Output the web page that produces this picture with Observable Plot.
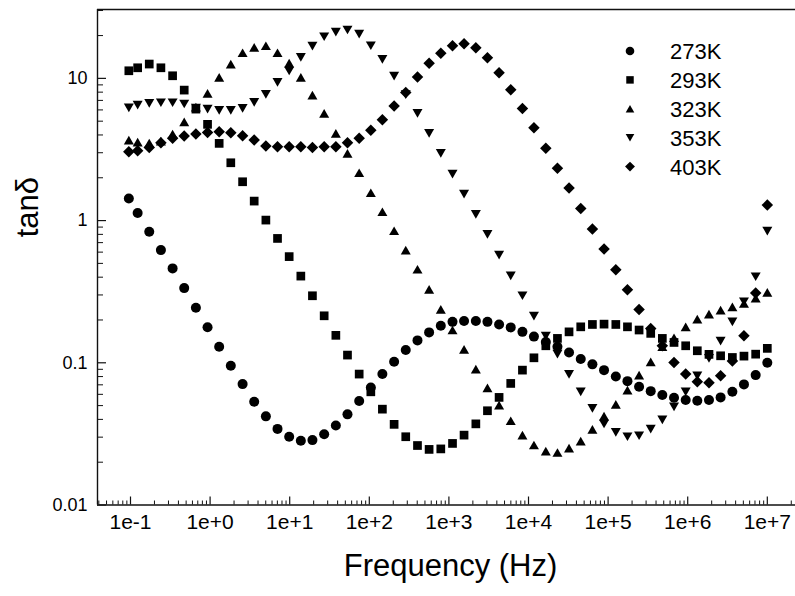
<!DOCTYPE html>
<html><head><meta charset="utf-8">
<script src="https://cdn.jsdelivr.net/npm/d3@7"></script>
<script src="https://cdn.jsdelivr.net/npm/@observablehq/plot@0.6"></script>
<style>
html,body{margin:0;padding:0;background:#fff;}
#chart{width:795px;height:596px;}
</style></head><body><div id="chart"></div>
<script>
// Frequency (Hz) of each measurement point
const frequency = [0.0953, 0.123, 0.172, 0.241, 0.338, 0.473, 0.663, 0.929, 1.30, 1.82,
  2.56, 3.58, 5.02, 7.03, 9.85, 13.8, 19.3, 27.1, 38.0, 53.2,
  74.6, 104.5, 146, 205, 287, 403, 564, 791, 1110, 1550,
  2180, 3050, 4270, 5980, 8390, 11700, 16500, 23100, 32300, 45300,
  63500, 88900, 125000, 175000, 245000, 343000, 480000, 673000, 943000, 1320000,
  1850000, 2590000, 3640000, 5090000, 7140000, 10000000];

const tan273 = [1.43, 1.13, 0.834, 0.620, 0.461, 0.335, 0.244, 0.178, 0.1296, 0.0952,
  0.0708, 0.0532, 0.0420, 0.0343, 0.0302, 0.0283, 0.0286, 0.0314, 0.0362, 0.0434,
  0.0538, 0.0671, 0.0833, 0.1016, 0.1229, 0.1437, 0.1636, 0.182, 0.194, 0.197,
  0.197, 0.194, 0.186, 0.1774, 0.165, 0.1528, 0.1398, 0.1296, 0.118, 0.1062,
  0.0975, 0.0888, 0.0802, 0.0743, 0.0678, 0.0632, 0.0593, 0.0567, 0.0547, 0.0541,
  0.0547, 0.0571, 0.0625, 0.0705, 0.0819, 0.100];

const tan293 = [11.31, 11.87, 12.61, 11.87, 10.43, 8.27, 6.08, 4.75, 3.49, 2.55,
  1.875, 1.371, 1.008, 0.749, 0.558, 0.407, 0.296, 0.214, 0.156, 0.1133,
  0.0833, 0.0625, 0.0472, 0.0369, 0.0302, 0.0262, 0.0246, 0.0248, 0.0271, 0.0310,
  0.0372, 0.0460, 0.0571, 0.0716, 0.0888, 0.1084, 0.1317, 0.1484, 0.165, 0.179,
  0.186, 0.187, 0.186, 0.179, 0.170, 0.161, 0.1484, 0.139, 0.1317, 0.1215,
  0.1146, 0.112, 0.109, 0.1114, 0.115, 0.1263];

const tan323 = [3.68, 3.565, 3.51, 3.62, 4.06, 4.95, 6.28, 7.84, 10.16, 12.61,
  15.14, 16.52, 16.96, 15.14, 12.81, 10.16, 7.63, 5.67, 4.10, 2.97,
  2.168, 1.569, 1.153, 0.848, 0.620, 0.4545, 0.328, 0.2374, 0.170, 0.1243,
  0.0903, 0.0667, 0.0504, 0.0391, 0.0310, 0.0264, 0.0239, 0.0234, 0.0251, 0.0281,
  0.0340, 0.0422, 0.0510, 0.0643, 0.0819, 0.1016, 0.1296, 0.150, 0.179, 0.203,
  0.220, 0.2348, 0.2476, 0.2617, 0.285, 0.3128];

const tan353 = [6.21, 6.49, 6.67, 6.74, 6.74, 6.60, 6.18, 6.08, 5.96, 5.96,
  6.15, 6.78, 7.72, 9.37, 11.26, 14.05, 16.87, 19.61, 21.17, 21.87,
  20.49, 16.96, 13.60, 10.38, 7.69, 5.67, 4.10, 2.97, 2.123, 1.536,
  1.106, 0.80, 0.572, 0.409, 0.296, 0.213, 0.154, 0.115, 0.0829, 0.0625,
  0.0478, 0.0371, 0.0324, 0.0302, 0.0307, 0.0342, 0.0397, 0.0490, 0.0625, 0.0810,
  0.1074, 0.1421, 0.194, 0.2685, 0.4025, 0.844];

const tan403 = [3.05, 3.10, 3.27, 3.53, 3.79, 3.93, 4.06, 4.17, 4.21, 4.14,
  3.95, 3.68, 3.34, 3.30, 3.30, 3.30, 3.27, 3.30, 3.30, 3.53,
  3.79, 4.31, 5.12, 6.39, 7.97, 10.21, 12.75, 14.99, 16.96, 17.51,
  16.42, 13.96, 10.95, 8.31, 6.15, 4.49, 3.22, 2.33, 1.693, 1.218,
  0.871, 0.630, 0.4508, 0.326, 0.2374, 0.1745, 0.132, 0.1006, 0.0833, 0.0735,
  0.0724, 0.0810, 0.1028, 0.1548, 0.309, 1.285];

const seriesNames = ["273K", "293K", "323K", "353K", "403K"];
const seriesValues = [tan273, tan293, tan323, tan353, tan403];
const xTickValues = [1e-1, 1e0, 1e1, 1e2, 1e3, 1e4, 1e5, 1e6, 1e7];
const yTickValues = [0.01, 0.1, 1, 10];

// marker shapes (custom symbols, r = sqrt(size/PI))
const rOf = s => Math.sqrt(s / Math.PI);
const symCircle = {draw(c, s) { const r = rOf(s); c.moveTo(r, 0); c.arc(0, 0, r, 0, 2 * Math.PI); }};
const symSquare = {draw(c, s) { const r = rOf(s) * 0.87; c.moveTo(-r, -r); c.lineTo(r, -r); c.lineTo(r, r); c.lineTo(-r, r); c.closePath(); }};
const symUp = {draw(c, s) { const r = rOf(s), h = r * 0.866; c.moveTo(0, -h); c.lineTo(r, h); c.lineTo(-r, h); c.closePath(); }};
const symDown = {draw(c, s) { const r = rOf(s), h = r * 0.866; c.moveTo(0, h); c.lineTo(r, -h); c.lineTo(-r, -h); c.closePath(); }};
const symDiamond = {draw(c, s) { const r = rOf(s) * 1.15; c.moveTo(0, -r); c.lineTo(r, 0); c.lineTo(0, r); c.lineTo(-r, 0); c.closePath(); }};
const symbols = [symCircle, symSquare, symUp, symDown, symDiamond];

const W = 795, H = 596, mL = 97, mR = 0, mT = 9, mB = 91.5;
const xDomain = [0.0385, 2.26e7], yDomain = [0.01, 30.5];
const frameH = H - mT - mB, frameW = W - mL - mR;

// minor tick positions
const xMinor = [], yMinor = [];
for (let e = -2; e <= 7; e++) for (let k = 2; k <= 9; k++) { const v = k * Math.pow(10, e); if (v > xDomain[0] && v < xDomain[1]) xMinor.push(v); }
for (let e = -2; e <= 1; e++) for (let k = 2; k <= 9; k++) { const v = k * Math.pow(10, e); if (v > yDomain[0] && v < yDomain[1]) yMinor.push(v); }

const font = "'Liberation Sans', Arial, Helvetica, sans-serif";
const ink = "#111";

const dotMarks = seriesNames.map((name, si) =>
  Plot.dot(frequency.map((f, i) => ({f, v: seriesValues[si][i], series: name})), {
    x: "f", y: "v", symbol: () => symbols[si], r: 5, fill: "#000", stroke: "none"
  })
);

const plot = Plot.plot({
  width: W, height: H,
  marginLeft: mL, marginRight: mR, marginTop: mT, marginBottom: mB,
  style: {background: "#fff", fontFamily: font, color: "#000", overflow: "visible"},
  x: {type: "log", domain: xDomain, axis: null},
  y: {type: "log", domain: yDomain, axis: null},
  symbol: {type: "identity"},
  marks: [
    Plot.ruleY([yDomain[0]], {stroke: ink, strokeWidth: 1.4}),
    Plot.ruleY([yDomain[1]], {stroke: ink, strokeWidth: 1.4}),
    Plot.ruleX([xDomain[0]], {stroke: ink, strokeWidth: 1.4}),
    Plot.tickX(xTickValues, {x: d => d, insetTop: frameH - 8, stroke: ink, strokeWidth: 1.2}),
    Plot.tickX(xMinor, {x: d => d, insetTop: frameH - 4, stroke: ink, strokeWidth: 1}),
    Plot.tickY(yTickValues, {y: d => d, insetRight: frameW - 9, stroke: ink, strokeWidth: 1.2}),
    Plot.tickY(yMinor, {y: d => d, insetRight: frameW - 6, stroke: ink, strokeWidth: 1}),
    Plot.text(xTickValues, {x: d => d, text: d => d3.format(".0e")(d), frameAnchor: "bottom", dy: 24, fontSize: 21, fill: "#000"}),
    Plot.text(yTickValues, {y: d => d, text: d => String(d), frameAnchor: "left", dx: -10, textAnchor: "end", fontSize: 18, fill: "#000"}),
    Plot.text(["Frequency (Hz)"], {text: d => d, frameAnchor: "bottom", dx: 4, dy: 71, fontSize: 31, fill: "#000"}),
    Plot.text(["tanδ"], {text: d => d, frameAnchor: "left", dx: -69, dy: -20, rotate: -90, fontSize: 31, fill: "#000"}),
    ...dotMarks
  ]
});

// legend
const svg = d3.select(plot);
const lg = svg.append("g").attr("font-family", font).attr("text-anchor", "start");
seriesNames.forEach((name, i) => {
  const yy = 51 + i * 28.9;
  lg.append("path")
    .attr("d", d3.symbol(symbols[i], Math.PI * 4.3 * 4.3)())
    .attr("transform", `translate(630,${yy})`)
    .attr("fill", "#000");
  lg.append("text")
    .attr("x", 670).attr("y", yy).attr("dy", "0.36em")
    .attr("text-anchor", "start")
    .attr("font-size", 22).attr("fill", "#000")
    .text(name);
});

document.getElementById("chart").appendChild(plot);
</script>
</body></html>
